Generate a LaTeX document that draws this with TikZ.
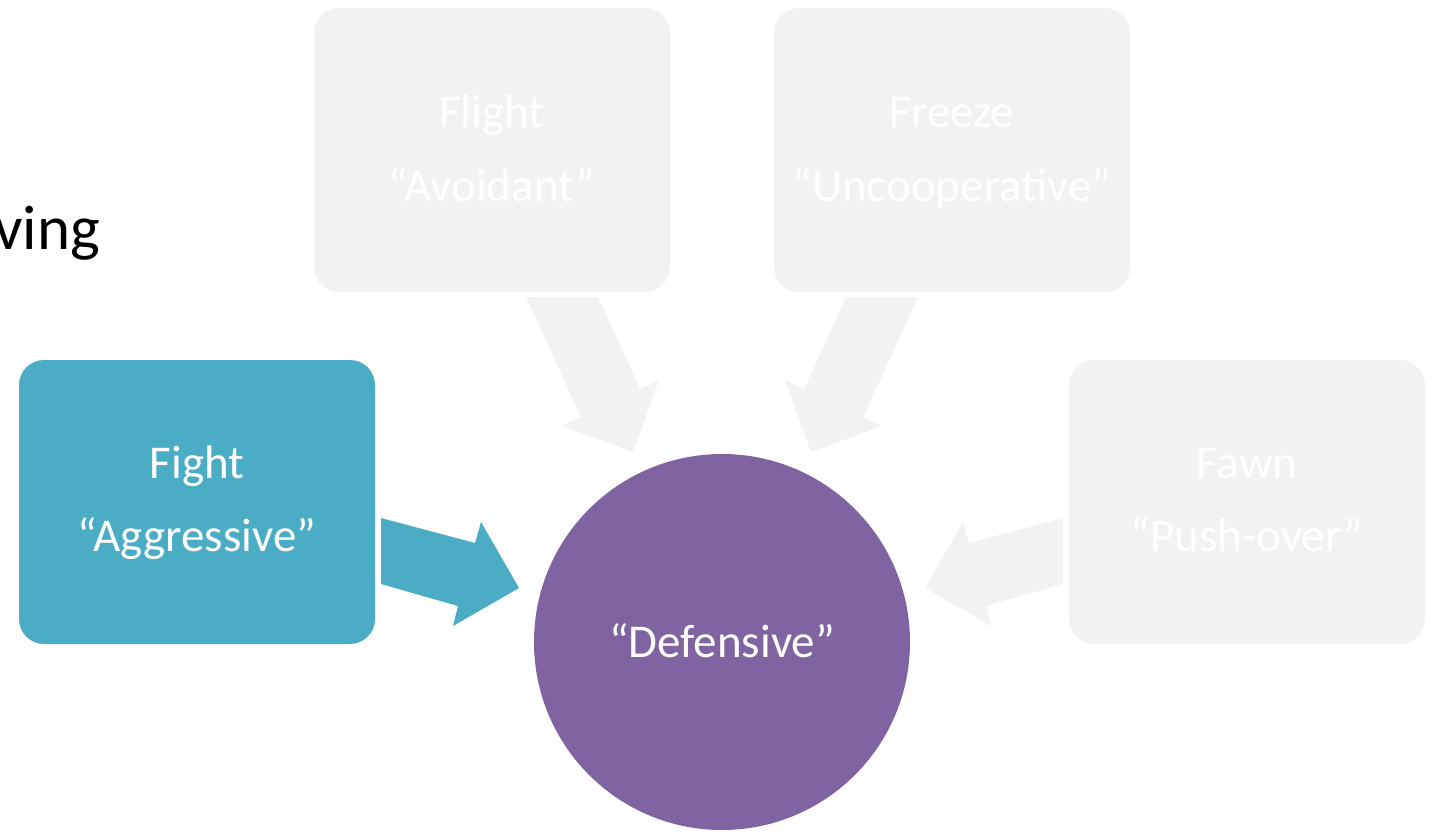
\documentclass[tikz,border=0pt]{standalone}
\usepackage{fontspec}
\setmainfont{Carlito}
\definecolor{lgray}{HTML}{F2F2F2}
\definecolor{fblue}{HTML}{4BACC6}
\definecolor{dpurple}{HTML}{8064A2}
\begin{document}
\begin{tikzpicture}[x=1pt,y=-1pt,
  card/.style={draw=none,rounded corners=25pt,minimum width=356pt,minimum height=284pt,inner sep=0pt},
  lbl/.style={text=white,font=\fontsize{47}{56}\selectfont,inner sep=0pt,anchor=base}]
\useasboundingbox (0,0) rectangle (1433,831);
% partial title text
\node[anchor=base east,inner sep=0pt,font=\fontsize{63}{75}\selectfont] (title) at (100,249) {ving};
% cards
\node[card,fill=lgray] (flight) at (492,150) {};
\node[card,fill=lgray] (freeze) at (952,150) {};
\node[card,fill=fblue] (fight) at (197,502) {};
\node[card,fill=lgray] (fawn) at (1247,502) {};
% circle
\node[circle,fill=dpurple,minimum size=376pt,inner sep=0pt] (def) at (722,642) {};
% arrows
\fill[lgray] (526,297) -- (598,297) -- (640,389) -- (659,380) -- (633,452) -- (562,426) -- (581,417) -- cycle;
\fill[lgray] (918,297) -- (846,297) -- (804,389) -- (785,380) -- (811,452) -- (882,426) -- (863,417) -- cycle;
\fill[fblue] (381,518) -- (475,543) -- (481,522) -- (519,588) -- (453,626) -- (458,606) -- (381,584) -- cycle;
\fill[lgray] (1063,518) -- (969,543) -- (963,522) -- (925,588) -- (991,626) -- (986,606) -- (1063,584) -- cycle;
% labels
\node[lbl] (flightA) at (492,127) {Flight};
\node[lbl] (flightB) at (492,201) {“Avoidant”};
\node[lbl] (freezeA) at (952,127) {Freeze};
\node[lbl] (freezeB) at (952,201) {“Uncooperative”};
\node[lbl] (fightA) at (197,478) {Fight};
\node[lbl] (fightB) at (197,551) {“Aggressive”};
\node[lbl] (fawnA) at (1247,478) {Fawn};
\node[lbl] (fawnB) at (1247,551) {“Push-over”};
\node[lbl] (defA) at (722,657) {“Defensive”};
\end{tikzpicture}
\end{document}
